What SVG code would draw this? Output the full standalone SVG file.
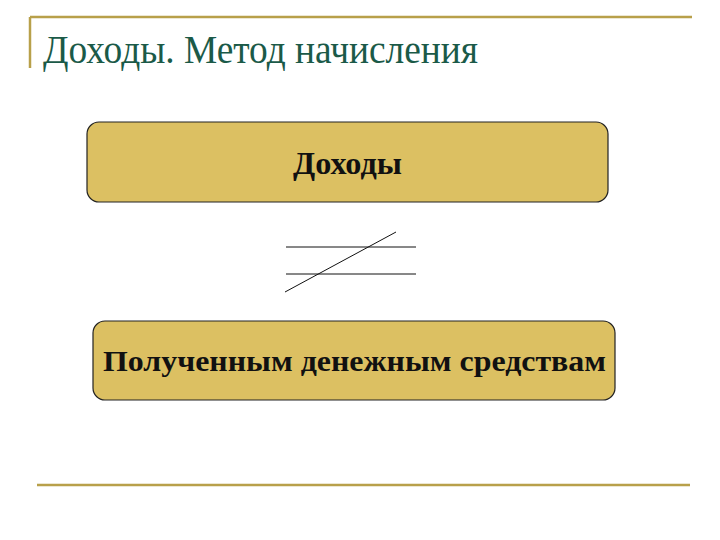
<svg xmlns="http://www.w3.org/2000/svg" width="720" height="540" viewBox="0 0 720 540">
<style>
.frame{stroke:#b8a04a;stroke-width:2.5;fill:none}
.box{fill:#dcc062;stroke:#222;stroke-width:1.2}
.lbl{font-family:"Liberation Serif","DejaVu Serif",serif;font-weight:bold;fill:#111;text-anchor:middle}
.ln{stroke:#111;stroke-width:1}
</style>
<rect width="720" height="540" fill="#fff"/>
<g id="frame">
<line class="frame" x1="30" y1="17" x2="692" y2="17"/>
<line class="frame" x1="30" y1="17" x2="30" y2="68"/>
<line class="frame" x1="37" y1="485" x2="690" y2="485"/>
</g>
<text id="title" x="43" y="63" font-family="Liberation Serif, DejaVu Serif, serif" font-size="40" fill="#1b5a48" textLength="435" lengthAdjust="spacingAndGlyphs">Доходы. Метод начисления</text>
<g id="node-income">
<rect class="box" x="87" y="122" width="521" height="80" rx="12"/>
<text class="lbl" x="347.5" y="174" font-size="32" textLength="109" lengthAdjust="spacingAndGlyphs">Доходы</text>
</g>
<g id="node-cash">
<rect class="box" x="93" y="321" width="522" height="79" rx="12"/>
<text class="lbl" x="354.5" y="371" font-size="30" textLength="503" lengthAdjust="spacingAndGlyphs">Полученным денежным средствам</text>
</g>
<g id="connectors">
<line class="ln" x1="286" y1="247" x2="416" y2="247"/>
<line class="ln" x1="286" y1="274" x2="416" y2="274"/>
<line class="ln" x1="396" y1="232" x2="285" y2="292"/>
</g>
</svg>
